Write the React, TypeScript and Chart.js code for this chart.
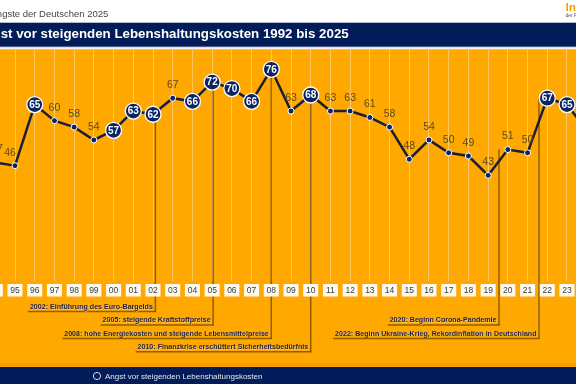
import React, { useEffect, useRef } from "react";
import { Chart, registerables } from "chart.js";
Chart.register(...registerables);

// ---------- data ----------
const years = ["94","95","96","97","98","99","00","01","02","03","04","05","06","07","08","09","10","11","12","13","14","15","16","17","18","19","20","21","22","23","24"];
const values = [47,46,65,60,58,54,57,63,62,67,66,72,70,66,76,63,68,63,63,61,58,48,54,50,49,43,51,50,67,65,57];
// years in which this fear ranked first (drawn as big labelled circles)
const topFearYears = ["96","00","01","02","04","05","06","07","08","10","22","23","24"];

const eventYears = ["02","05","08","10","20","22"];
const eventTexts = [
  "2002: Einführung des Euro-Bargelds",
  "2005: steigende Kraftstoffpreise",
  "2008: hohe Energiekosten und steigende Lebensmittelpreise",
  "2010: Finanzkrise erschüttert Sicherheitsbedürfnis",
  "2020: Beginn Corona-Pandemie",
  "2022: Beginn Ukraine-Krieg, Rekordinflation in Deutschland",
];

const headerText = "Die Ängste der Deutschen 2025";
const titleText = "Angst vor steigenden Lebenshaltungskosten 1992 bis 2025";
const legendText = "Angst vor steigenden Lebenshaltungskosten";
const logoText = "Infocenter";
const logoSub = "der R+V Versicherung";

// ---------- style ----------
const OX = 40; // canvas x of page x = 0
const CW = 660;
const CH = 384;
const FONT = '"Liberation Sans", Arial, Helvetica, sans-serif';
const NAVY = "#021c59";
const ORANGE = "#ffa800";
const POINT = "#0b2463";
const eventRows = [0, 1, 2, 3, 1, 2];
const eventShift = [0.12, 0.05, 0, 0, -0.45, -0.42];
const labelShiftX: Record<string, number> = { "94": 1.7, "95": -5 };

const decor = {
  id: "decor",
  beforeDraw(chart: any) {
    const ctx = chart.ctx;
    const W = chart.width, H = chart.height;
    ctx.save();
    ctx.fillStyle = "#ffffff";
    ctx.fillRect(0, 0, W, H);
    ctx.textBaseline = "middle";
    ctx.textAlign = "right";
    ctx.fillStyle = "#444444";
    ctx.font = `9.5px ${FONT}`;
    ctx.fillText(headerText, OX + 108.3, 14);
    // logo
    ctx.textAlign = "left";
    ctx.fillStyle = "#f5a200";
    ctx.font = `bold 11.8px ${FONT}`;
    ctx.fillText(logoText, OX + 565.5, 8);
    ctx.fillStyle = "#555555";
    ctx.font = `5px ${FONT}`;
    ctx.fillText(logoSub, OX + 565.5, 16);
    // title bar
    ctx.fillStyle = NAVY;
    ctx.fillRect(0, 22.7, W, 24);
    ctx.fillStyle = "#ffffff";
    ctx.textAlign = "right";
    ctx.font = `bold 13.3px ${FONT}`;
    ctx.fillText(titleText, OX + 348.7, 34.7);
    ctx.fillStyle = "#d4d4d4";
    ctx.fillRect(0, 47.3, W, 1);
    // plot background
    ctx.fillStyle = ORANGE;
    ctx.fillRect(0, 49.3, W, 367 - 49.3);
    ctx.fillStyle = "rgba(160,90,0,0.12)";
    ctx.fillRect(0, 363, W, 4);
    // legend bar
    ctx.fillStyle = NAVY;
    ctx.fillRect(0, 367, W, H - 367);
    ctx.strokeStyle = "#d8dae6";
    ctx.lineWidth = 1;
    ctx.beginPath();
    ctx.arc(OX + 97, 376, 3.6, 0, Math.PI * 2);
    ctx.stroke();
    ctx.textAlign = "left";
    ctx.fillStyle = "#e4e6ee";
    ctx.font = `8px ${FONT}`;
    ctx.fillText(legendText, OX + 105, 376.5);
    ctx.restore();
  },
  beforeDatasetsDraw(chart: any) {
    const ctx = chart.ctx;
    const xs = chart.scales.x, ys = chart.scales.y;
    const step = xs.getPixelForValue(1) - xs.getPixelForValue(0);
    ctx.save();
    eventYears.forEach((yr, k) => {
      const i = years.indexOf(yr);
      const x = xs.getPixelForValue(i) + eventShift[k] * step;
      const yTop = ys.getPixelForValue(values[i]);
      const cy = 307 + eventRows[k] * 13.4;
      const yBot = cy + 4.6;
      ctx.font = `bold 7.1px ${FONT}`;
      const tw = ctx.measureText(eventTexts[k]).width;
      const tx = x - 2.5;
      ctx.strokeStyle = "rgba(75,45,0,0.6)";
      ctx.lineWidth = 1.5;
      ctx.beginPath();
      ctx.moveTo(x, yTop);
      ctx.lineTo(x, yBot);
      ctx.stroke();
      ctx.beginPath();
      ctx.moveTo(tx - tw - 2, yBot);
      ctx.lineTo(x + 0.75, yBot);
      ctx.stroke();
      ctx.textAlign = "right";
      ctx.textBaseline = "middle";
      ctx.fillStyle = "rgba(255,230,170,0.5)";
      ctx.fillText(eventTexts[k], tx + 0.6, cy + 0.6);
      ctx.fillStyle = "#1c2152";
      ctx.fillText(eventTexts[k], tx, cy);
    });
    ctx.restore();
  },
  afterDatasetsDraw(chart: any) {
    const ctx = chart.ctx;
    const xs = chart.scales.x, ys = chart.scales.y;
    ctx.save();
    ctx.textAlign = "center";
    ctx.textBaseline = "middle";
    years.forEach((yr, i) => {
      const x = xs.getPixelForValue(i);
      ctx.fillStyle = "#fffaf0";
      ctx.fillRect(x - 7.5, 284, 15, 12.5);
      ctx.fillStyle = "#3a3a3a";
      ctx.font = `8.5px ${FONT}`;
      ctx.fillText(yr, x, 290.5);
      const y = ys.getPixelForValue(values[i]);
      if (topFearYears.includes(yr)) {
        ctx.fillStyle = "#ffffff";
        ctx.font = `bold 10px ${FONT}`;
        ctx.fillText(String(values[i]), x, y + 0.5);
      } else {
        ctx.fillStyle = "#5c4a1e";
        ctx.font = `10.5px ${FONT}`;
        ctx.fillText(String(values[i]), x + (labelShiftX[yr] || 0), y - 13);
      }
    });
    ctx.restore();
  },
};

export default function App() {
  const ref = useRef<HTMLCanvasElement>(null);
  useEffect(() => {
    if (!ref.current) return;
    const big = years.map((y) => topFearYears.includes(y));
    const chart = new Chart(ref.current, {
      type: "line",
      data: {
        labels: years,
        datasets: [
          {
            label: legendText,
            data: values,
            borderColor: "#1b1d3d",
            borderWidth: 2.5,
            pointRadius: big.map((b) => (b ? 8 : 3)),
            pointHoverRadius: big.map((b) => (b ? 8 : 3)),
            pointBackgroundColor: POINT,
            pointBorderColor: "#ffffff",
            pointBorderWidth: big.map((b) => (b ? 1.3 : 1)),
            tension: 0,
            clip: false as any,
          },
        ],
      },
      options: {
        animation: false,
        responsive: false,
        events: [],
        layout: { padding: { left: 35.3, right: 33.3, top: 50, bottom: 102.7 } },
        plugins: { legend: { display: false }, tooltip: { enabled: false } },
        scales: {
          x: {
            type: "category",
            offset: false,
            grid: { color: "rgba(255,240,205,0.45)", lineWidth: 1, drawTicks: false },
            border: { display: false },
            ticks: { display: false },
          },
          y: { display: false, min: 10, max: 82 },
        },
      },
      plugins: [decor],
    });
    return () => chart.destroy();
  }, []);
  return (
    <div style={{ position: "fixed", left: 0, top: 0, width: 576, height: 384, overflow: "hidden", background: "#fff" }}>
      <canvas ref={ref} width={CW} height={CH} style={{ position: "absolute", left: -OX, top: 0 }} />
    </div>
  );
}
